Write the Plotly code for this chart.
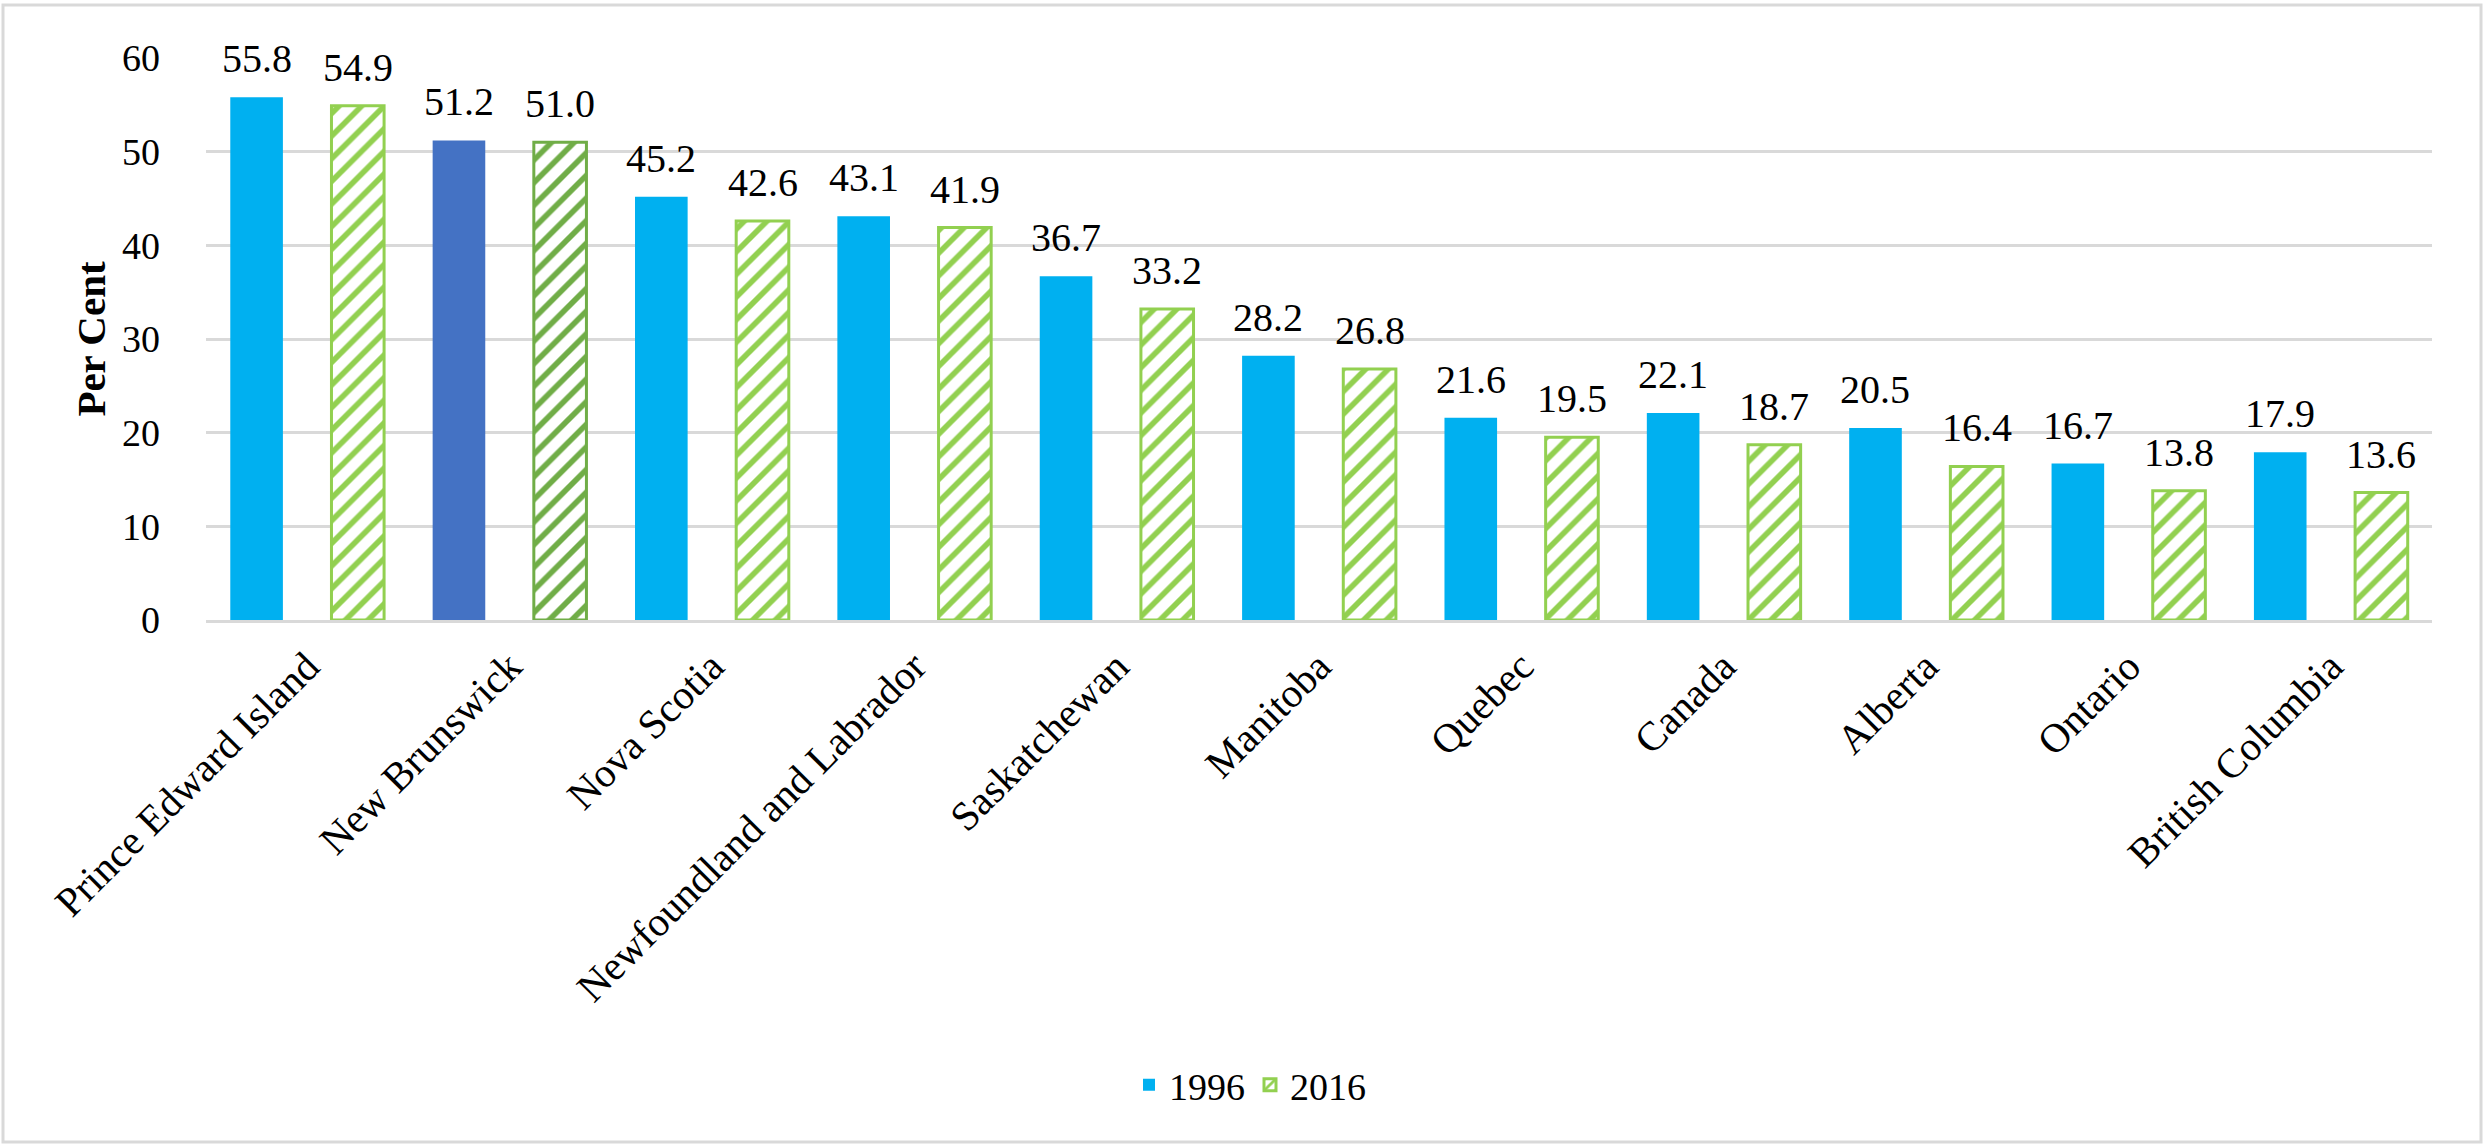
import plotly.graph_objects as go

categories = ["Prince Edward Island", "New Brunswick", "Nova Scotia",
              "Newfoundland and Labrador", "Saskatchewan", "Manitoba",
              "Quebec", "Canada", "Alberta", "Ontario", "British Columbia"]
values_1996 = [55.8, 51.2, 45.2, 43.1, 36.7, 28.2, 21.6, 22.1, 20.5, 16.7, 17.9]
values_2016 = [54.9, 51.0, 42.6, 41.9, 33.2, 26.8, 19.5, 18.7, 16.4, 13.8, 13.6]
series_names = ["1996", "2016"]
y_ticks = [0, 10, 20, 30, 40, 50, 60]

FONT = "Liberation Serif"
BLUE = "#00B0F0"
BLUE_HL = "#4472C4"
GREEN = "#92D050"
GREEN_HL = "#70AD47"
HL = "New Brunswick"

c1996 = [BLUE_HL if c == HL else BLUE for c in categories]
c2016 = [GREEN_HL if c == HL else GREEN for c in categories]

fig = go.Figure()
fig.add_trace(go.Bar(
    name=series_names[0], x=categories, y=values_1996,
    marker=dict(color=c1996, line=dict(width=0)),
))
fig.add_trace(go.Bar(
    name=series_names[1], x=categories, y=values_2016,
    marker=dict(color="white", line=dict(color=c2016, width=3),
                pattern=dict(shape="/", fgcolor=c2016, bgcolor="white",
                             size=16, solidity=0.35, fillmode="replace")),
))

ann = []
for i, c in enumerate(categories):
    for vals, dx in ((values_1996, -50.6), (values_2016, 50.6)):
        ann.append(dict(x=c, y=vals[i], xref="x", yref="y", text=f"{vals[i]:.1f}",
                        showarrow=False, yanchor="bottom", xanchor="center",
                        xshift=dx, yshift=14,
                        font=dict(family=FONT, size=40, color="black")))

W, H = 2484, 1146
L, R, T, B = 206, 52, 58, 526
pw, ph = W - L - R, H - T - B

def px(x):
    return (x - L) / pw

def py(y):
    return (H - B - y) / ph

fig.update_layout(
    width=W, height=H,
    margin=dict(l=L, r=R, t=T, b=B, autoexpand=False),
    paper_bgcolor="white", plot_bgcolor="white",
    barmode="group", bargap=0.0, bargroupgap=0.48,
    font=dict(family=FONT, size=38, color="black"),
    annotations=ann,
    showlegend=True,
    legend=dict(orientation="h", x=px(1250), y=py(1085), xanchor="center",
                yanchor="middle", font=dict(family=FONT, size=38, color="black"),
                traceorder="normal", itemwidth=30),
    shapes=[dict(type="rect", xref="paper", yref="paper",
                 x0=px(3), x1=px(2481), y0=py(1142), y1=py(5),
                 line=dict(color="#D9D9D9", width=3), fillcolor="rgba(0,0,0,0)",
                 layer="below")],
)
fig.update_yaxes(range=[0, 60], tickvals=y_ticks, showgrid=True, automargin=False,
                 gridcolor="#D9D9D9", gridwidth=3, zeroline=False,
                 showline=False, ticks="", ticklabelstandoff=45,
                 tickfont=dict(family=FONT, size=38, color="black"),
                 title=dict(text="<b>Per Cent</b>", standoff=3,
                            font=dict(family=FONT, size=41, color="black")))
fig.update_xaxes(showgrid=False, showline=True, linecolor="#D9D9D9", linewidth=3,
                 automargin=False, tickangle=-45, ticks="", ticklabelstandoff=3,
                 tickfont=dict(family=FONT, size=41, color="black"))

fig.write_html("out.html", config={"displayModeBar": False},
               post_script="document.body.style.margin='0';document.body.style.overflow='hidden';")
